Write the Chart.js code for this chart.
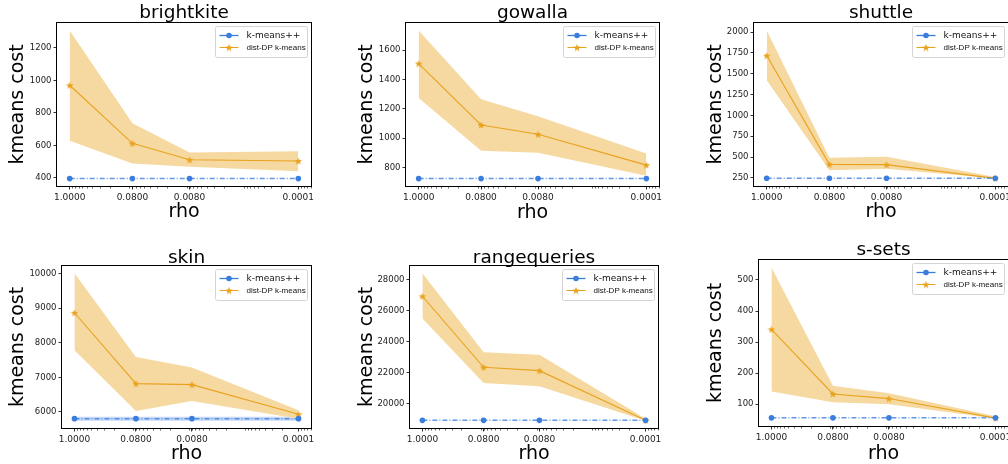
<!DOCTYPE html>
<html>
<head>
<meta charset="utf-8">
<script src="https://cdn.jsdelivr.net/npm/chart.js@4.4.1/dist/chart.umd.min.js"></script>
<style>
  html, body { margin: 0; padding: 0; background: #fff; overflow: hidden; }
  #wrap { position: relative; width: 1008px; height: 464px; overflow: hidden; }
  canvas { position: absolute; }
</style>
</head>
<body>
<div id="wrap"></div>
<script>
// rho values (x axis, log scale, reversed)
const rho = [1, 0.08, 0.008, 0.0001];
const panelNames = ['brightkite', 'gowalla', 'shuttle', 'skin', 'rangequeries', 's-sets'];

const brightkiteKm = [395, 395, 395, 395];
const brightkiteDp = [970, 612, 511, 503];
const brightkiteLo = [628, 488, 468, 441];
const brightkiteHi = [1308, 736, 556, 563];
const brightkiteTicks = [400, 600, 800, 1000, 1200];

const gowallaKm = [724, 724, 724, 724];
const gowallaDp = [1509, 1090, 1026, 816];
const gowallaLo = [1273, 914, 900, 743];
const gowallaHi = [1735, 1266, 1150, 896];
const gowallaTicks = [800, 1000, 1200, 1400, 1600];

const shuttleKm = [246, 246, 246, 246];
const shuttleDp = [1718, 413, 409, 245];
const shuttleLo = [1423, 341, 361, 242];
const shuttleHi = [2020, 493, 505, 262];
const shuttleTicks = [250, 500, 750, 1000, 1250, 1500, 1750, 2000];

const skinKm = [5807, 5807, 5807, 5807];
const skinKmLo = [5750, 5750, 5750, 5750];
const skinKmHi = [5860, 5860, 5860, 5860];
const skinDp = [8863, 6819, 6790, 5933];
const skinLo = [7783, 6029, 6318, 5807];
const skinHi = [10000, 7590, 7282, 6048];
const skinTicks = [6000, 7000, 8000, 9000, 10000];

const rangeKm = [18949, 18949, 18949, 18949];
const rangeDp = [26928, 22359, 22145, 18949];
const rangeLo = [25490, 21351, 21137, 18930];
const rangeHi = [28400, 23324, 23174, 19056];
const rangeTicks = [20000, 22000, 24000, 26000, 28000];

const ssetsKm = [56, 56, 56, 56];
const ssetsDp = [341, 133, 118, 55];
const ssetsLo = [141, 106, 100, 54];
const ssetsHi = [540, 159, 135, 61];
const ssetsTicks = [100, 200, 300, 400, 500];

const seriesLabels = ['k-means++', 'dist-DP k-means'];

const panels = [
  { km: brightkiteKm, dp: brightkiteDp, lo: brightkiteLo, hi: brightkiteHi, ticks: brightkiteTicks },
  { km: gowallaKm, dp: gowallaDp, lo: gowallaLo, hi: gowallaHi, ticks: gowallaTicks },
  { km: shuttleKm, dp: shuttleDp, lo: shuttleLo, hi: shuttleHi, ticks: shuttleTicks },
  { km: skinKm, dp: skinDp, lo: skinLo, hi: skinHi, ticks: skinTicks, kmLo: skinKmLo, kmHi: skinKmHi },
  { km: rangeKm, dp: rangeDp, lo: rangeLo, hi: rangeHi, ticks: rangeTicks },
  { km: ssetsKm, dp: ssetsDp, lo: ssetsLo, hi: ssetsHi, ticks: ssetsTicks }
];

// geometry of each cell: plot frame (L,R,T,B) and text paddings
const layout = [
  { x: 0,   y: 0,   L: 57, R: 311, T: 23, B: 186, yl: 8.9,  xl: 10, tt: 6.1,  tb: 2.1 },
  { x: 336, y: 0,   L: 70, R: 323, T: 23, B: 186, yl: 21.9, xl: 9.5, tt: 6.1, tb: 2.1 },
  { x: 672, y: 0,   L: 82, R: 336, T: 23, B: 186, yl: 34.9, xl: 10, tt: 5.4,  tb: 2.8 },
  { x: 0,   y: 232, L: 62, R: 311, T: 34, B: 196, yl: 8.9,  xl: 0.8, tt: 19.2, tb: 0 },
  { x: 336, y: 232, L: 74, R: 322, T: 34, B: 196, yl: 21.6, xl: 0.8, tt: 18.8, tb: 0.4 },
  { x: 672, y: 232, L: 87, R: 336, T: 28, B: 194, yl: 34.9, xl: 0.8, tt: 11.1, tb: 2.1 }
];

const CELL_W = 336, CELL_H = 232;
const BLUE = '#3b7ddd';
const ORANGE = '#e9a21d';
const BAND = '#f6d9a1';

function makeStar(color, size) {
  const c = document.createElement('canvas');
  c.width = c.height = size;
  const ctx = c.getContext('2d');
  ctx.fillStyle = color;
  ctx.beginPath();
  const cx = size / 2, cy = size / 2 + 0.4, ro = size / 2, ri = ro * 0.42;
  for (let i = 0; i < 10; i++) {
    const r = i % 2 ? ri : ro;
    const a = -Math.PI / 2 + i * Math.PI / 5;
    ctx.lineTo(cx + r * Math.cos(a), cy + r * Math.sin(a));
  }
  ctx.closePath();
  ctx.fill();
  return c;
}
const star = makeStar(ORANGE, 8);

const pts = arr => rho.map((r, i) => ({ x: r, y: arr[i] }));

// box around plot area + minor log ticks
const framePlugin = {
  id: 'frame',
  afterDraw(chart) {
    const { ctx, chartArea: a } = chart;
    const xs = chart.scales.x;
    ctx.save();
    ctx.strokeStyle = '#000';
    ctx.lineWidth = 1;
    const l = Math.round(a.left) - 0.5, t = Math.round(a.top) - 0.5;
    const r = Math.round(a.right) + 0.5, b = Math.round(a.bottom) + 0.5;
    ctx.strokeRect(l, t, r - l, b - t);
    ctx.lineWidth = 0.6;
    ctx.beginPath();
    for (let k = -5; k <= 0; k++) {
      for (let m = 2; m <= 9; m++) {
        const v = m * Math.pow(10, k);
        if (v < xs.min || v > xs.max) continue;
        const px = Math.round(xs.getPixelForValue(v)) + 0.5;
        ctx.moveTo(px, b);
        ctx.lineTo(px, b + 2);
      }
    }
    ctx.stroke();
    ctx.restore();
  }
};

// legend drawn inside the plot area, upper right
const legendPlugin = {
  id: 'innerLegend',
  afterDraw(chart) {
    const { ctx, chartArea: a } = chart;
    const ds = chart.data.datasets;
    const bw = 92, bh = 31;
    const bx = Math.round(a.right - 4 - bw) + 0.5, by = Math.round(a.top + 3) + 0.5;
    ctx.save();
    ctx.fillStyle = 'rgba(255,255,255,0.85)';
    ctx.strokeStyle = '#d4d4d4';
    ctx.lineWidth = 1;
    ctx.beginPath();
    ctx.roundRect(bx, by, bw, bh, 2);
    ctx.fill();
    ctx.stroke();

    const y1 = by + 9, y2 = by + 21;
    ctx.strokeStyle = BLUE;
    ctx.lineWidth = 1.3;
    ctx.beginPath(); ctx.moveTo(bx + 4, y1); ctx.lineTo(bx + 23, y1); ctx.stroke();
    ctx.fillStyle = BLUE;
    ctx.beginPath(); ctx.arc(bx + 13.5, y1, 2.8, 0, Math.PI * 2); ctx.fill();

    ctx.strokeStyle = ORANGE;
    ctx.lineWidth = 1;
    ctx.beginPath(); ctx.moveTo(bx + 4, y2); ctx.lineTo(bx + 23, y2); ctx.stroke();
    ctx.drawImage(star, bx + 13.5 - 4, y2 - 4);

    ctx.fillStyle = '#111';
    ctx.textBaseline = 'middle';
    ctx.font = '9px "DejaVu Sans"';
    ctx.fillText(ds[0].label, bx + 31, y1);
    ctx.font = '8px "Liberation Sans"';
    ctx.fillText(ds[1].label, bx + 31, y2);
    ctx.restore();
  }
};

const xMin = Math.pow(10, -4 - 0.2222);
const xMax = Math.pow(10, 0.2222);

panels.forEach((p, i) => {
  const g = layout[i];
  const canvas = document.createElement('canvas');
  canvas.width = CELL_W;
  canvas.height = CELL_H;
  canvas.style.left = g.x + 'px';
  canvas.style.top = g.y + 'px';
  document.getElementById('wrap').appendChild(canvas);

  const all = p.lo.concat(p.hi, p.km, p.dp, p.kmLo || [], p.kmHi || []);
  const dMin = Math.min(...all), dMax = Math.max(...all);
  const pad = (dMax - dMin) * 0.05;

  const datasets = [
    { label: seriesLabels[0], data: pts(p.km), borderColor: 'rgba(59,125,221,0.8)', borderWidth: 1.5,
      borderDash: [5, 2, 1, 2], pointRadius: 2.8, pointBackgroundColor: BLUE, pointBorderWidth: 0, fill: false },
    { label: seriesLabels[1], data: pts(p.dp), borderColor: ORANGE, borderWidth: 1.1,
      pointStyle: star, pointRadius: 4, fill: false },
    { label: 'hi', data: pts(p.hi), borderWidth: 0, pointRadius: 0, backgroundColor: BAND, fill: 3 },
    { label: 'lo', data: pts(p.lo), borderWidth: 0, pointRadius: 0, fill: false }
  ];
  if (p.kmLo) {
    datasets.push(
      { label: 'kmhi', data: pts(p.kmHi), borderWidth: 0, pointRadius: 0, backgroundColor: 'rgba(59,125,221,0.3)', fill: 5 },
      { label: 'kmlo', data: pts(p.kmLo), borderWidth: 0, pointRadius: 0, fill: false }
    );
  }

  new Chart(canvas, {
    type: 'line',
    data: { datasets },
    options: {
      responsive: false,
      animation: false,
      devicePixelRatio: 1,
      events: [],
      layout: { autoPadding: false, padding: { left: 0, right: CELL_W - g.R, top: 0, bottom: 0 } },
      plugins: {
        legend: { display: false },
        tooltip: { enabled: false },
        title: {
          display: true,
          text: panelNames[i],
          fullSize: false,
          color: '#000',
          font: { family: 'DejaVu Sans', size: 18.5, weight: 'normal', lineHeight: 0.8 },
          padding: { top: g.tt, bottom: g.tb }
        }
      },
      scales: {
        x: {
          type: 'logarithmic',
          reverse: true,
          min: xMin,
          max: xMax,
          afterFit: s => { s.height = CELL_H - g.B; s.paddingLeft = 0; s.paddingRight = 0; },
          afterBuildTicks: s => { s.ticks = rho.map(v => ({ value: v })); },
          border: { display: false },
          grid: { display: true, drawOnChartArea: false, drawTicks: true, tickLength: 3.5, color: '#000', lineWidth: 0.8 },
          ticks: {
            autoSkip: false, maxRotation: 0, padding: 2.5, color: '#222',
            font: { family: 'DejaVu Sans', size: 9 },
            callback: v => Number(v).toFixed(4)
          },
          title: {
            display: true, text: 'rho', color: '#000',
            font: { family: 'DejaVu Sans', size: 19, lineHeight: 1 },
            padding: { top: 0, bottom: g.xl }
          }
        },
        y: {
          type: 'linear',
          min: dMin - pad,
          max: dMax + pad,
          afterFit: s => { s.width = g.L; s.paddingTop = 0; s.paddingBottom = 0; },
          afterBuildTicks: s => { s.ticks = p.ticks.map(v => ({ value: v })); },
          border: { display: false },
          grid: { display: true, drawOnChartArea: false, drawTicks: true, tickLength: 3.5, color: '#000', lineWidth: 0.8 },
          ticks: {
            autoSkip: false, padding: 2, color: '#222',
            font: { family: 'DejaVu Sans', size: 8.5 },
            callback: v => String(v)
          },
          title: {
            display: true, text: 'kmeans cost', color: '#000',
            font: { family: 'DejaVu Sans', size: 19, lineHeight: 1 },
            padding: { top: g.yl, bottom: 0 }
          }
        }
      }
    },
    plugins: [framePlugin, legendPlugin]
  });
});
</script>
</body>
</html>
